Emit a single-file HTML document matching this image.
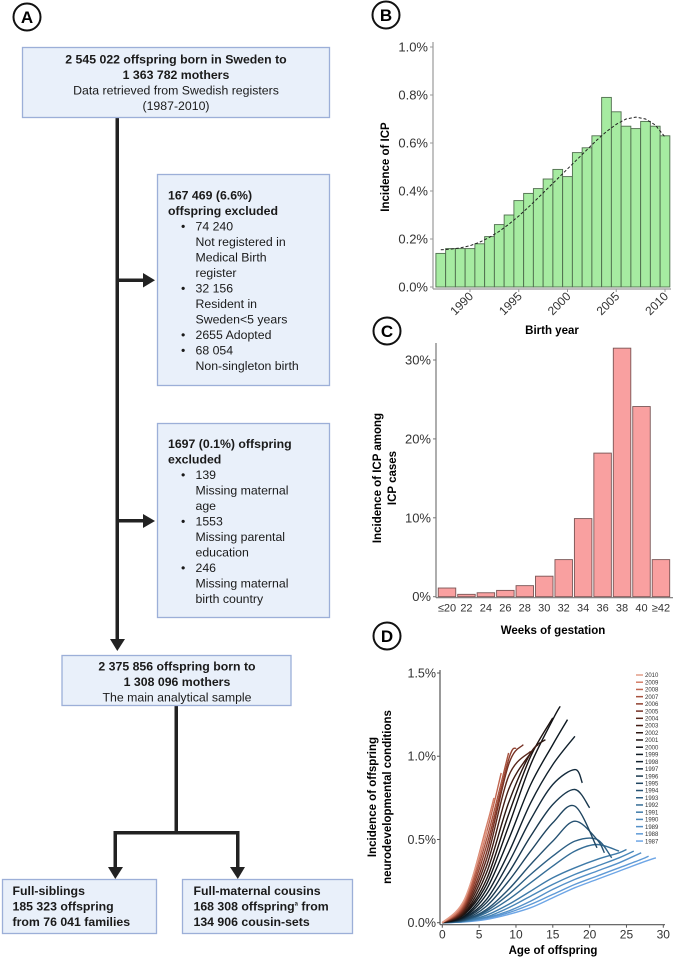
<!DOCTYPE html>
<html><head><meta charset="utf-8"><style>
html,body{margin:0;padding:0;background:#fff}
svg{display:block;font-family:"Liberation Sans",sans-serif}
</style></head><body>
<svg id="fig" width="678" height="959" viewBox="0 0 678 959" xmlns="http://www.w3.org/2000/svg">
<g id="flow">
 <circle cx="27" cy="17" r="13.5" fill="none" stroke="#111" stroke-width="2"/>
 <text x="27" y="23" text-anchor="middle" font-size="17" font-weight="bold">A</text>
 <g fill="#222" stroke="#222">
  <rect x="115.5" y="118" width="3.5" height="522" stroke="none"/>
  <polygon points="110,639 125,639 117.3,651" stroke="none"/>
  <rect x="117" y="278.5" width="28" height="3.5" stroke="none"/>
  <polygon points="143,273 155,280.3 143,287.5" stroke="none"/>
  <rect x="117" y="519" width="28" height="3.5" stroke="none"/>
  <polygon points="143,514 155,521 143,528" stroke="none"/>
  <rect x="174.5" y="706" width="3.5" height="128" stroke="none"/>
  <rect x="113.5" y="831" width="126" height="3.5" stroke="none"/>
  <rect x="113.5" y="831" width="3.5" height="38" stroke="none"/>
  <rect x="236" y="831" width="3.5" height="38" stroke="none"/>
  <polygon points="108,867 123,867 115.3,879" stroke="none"/>
  <polygon points="230,867 245,867 237.8,879" stroke="none"/>
 </g>
 <g font-size="12.3" fill="#1a1a1a">
  <g>
   <rect x="22.5" y="47.5" width="307" height="70" fill="#e9f0fa" stroke="#9cafd8" stroke-width="1.3"/>
   <text x="176" y="63.5" text-anchor="middle" font-weight="bold">2 545 022 offspring born in Sweden to</text>
   <text x="176" y="79" text-anchor="middle" font-weight="bold">1 363 782 mothers</text>
   <text x="176" y="94.5" text-anchor="middle">Data retrieved from Swedish registers</text>
   <text x="176" y="110" text-anchor="middle">(1987-2010)</text>
  </g>
  <g>
   <rect x="157.5" y="174.5" width="172" height="211" fill="#e9f0fa" stroke="#9cafd8" stroke-width="1.3"/>
   <text x="168" y="199.5" font-weight="bold">167 469 (6.6%)</text>
   <text x="168" y="215" font-weight="bold">offspring excluded</text>
   <text x="181" y="230.5">•</text><text x="195.5" y="230.5">74 240</text>
   <text x="195.5" y="246">Not registered in</text>
   <text x="195.5" y="261.5">Medical Birth</text>
   <text x="195.5" y="277">register</text>
   <text x="181" y="292.5">•</text><text x="195.5" y="292.5">32 156</text>
   <text x="195.5" y="308">Resident in</text>
   <text x="195.5" y="323.5">Sweden&lt;5 years</text>
   <text x="181" y="339">•</text><text x="195.5" y="339">2655 Adopted</text>
   <text x="181" y="354.5">•</text><text x="195.5" y="354.5">68 054</text>
   <text x="195.5" y="370">Non-singleton birth</text>
  </g>
  <g>
   <rect x="157.5" y="423.5" width="172" height="194" fill="#e9f0fa" stroke="#9cafd8" stroke-width="1.3"/>
   <text x="168" y="448" font-weight="bold">1697 (0.1%) offspring</text>
   <text x="168" y="463.5" font-weight="bold">excluded</text>
   <text x="181" y="479">•</text><text x="195.5" y="479">139</text>
   <text x="195.5" y="494.5">Missing maternal</text>
   <text x="195.5" y="510">age</text>
   <text x="181" y="525.5">•</text><text x="195.5" y="525.5">1553</text>
   <text x="195.5" y="541">Missing parental</text>
   <text x="195.5" y="556.5">education</text>
   <text x="181" y="572">•</text><text x="195.5" y="572">246</text>
   <text x="195.5" y="587.5">Missing maternal</text>
   <text x="195.5" y="603">birth country</text>
  </g>
  <g>
   <rect x="62" y="655.5" width="229" height="50" fill="#e9f0fa" stroke="#9cafd8" stroke-width="1.3"/>
   <text x="177" y="670.5" text-anchor="middle" font-weight="bold">2 375 856 offspring born to</text>
   <text x="177" y="686" text-anchor="middle" font-weight="bold">1 308 096 mothers</text>
   <text x="177" y="701.5" text-anchor="middle">The main analytical sample</text>
  </g>
  <g>
   <rect x="2.5" y="879.5" width="154" height="54" fill="#e9f0fa" stroke="#9cafd8" stroke-width="1.3"/>
   <text x="12.5" y="895" font-weight="bold">Full-siblings</text>
   <text x="12.5" y="910.5" font-weight="bold">185 323 offspring</text>
   <text x="12.5" y="926" font-weight="bold">from 76 041 families</text>
  </g>
  <g>
   <rect x="182.5" y="879.5" width="170" height="54" fill="#e9f0fa" stroke="#9cafd8" stroke-width="1.3"/>
   <text x="193.5" y="895" font-weight="bold">Full-maternal cousins</text>
   <text x="193.5" y="910.5" font-weight="bold">168 308 offspring<tspan font-size="6" dy="-5">a</tspan><tspan dy="5"> from</tspan></text>
   <text x="193.5" y="926" font-weight="bold">134 906 cousin-sets</text>
  </g>
 </g>
</g>
<g id="pb"></g>
<g id="pc"></g>
<g id="pd"></g>
</svg>
<script>
const NS="http://www.w3.org/2000/svg";
// ---- Panel B data ----
const bYears=[1987,1988,1989,1990,1991,1992,1993,1994,1995,1996,1997,1998,1999,2000,2001,2002,2003,2004,2005,2006,2007,2008,2009,2010];
const bValues=[0.14,0.16,0.16,0.16,0.18,0.21,0.26,0.30,0.36,0.39,0.41,0.45,0.49,0.46,0.56,0.58,0.63,0.79,0.73,0.67,0.66,0.69,0.67,0.63];
const bTrend=[0.155,0.158,0.163,0.172,0.187,0.207,0.232,0.262,0.296,0.333,0.372,0.412,0.452,0.492,0.532,0.572,0.612,0.648,0.678,0.700,0.708,0.700,0.675,0.625];
const bYTicks=[0,0.2,0.4,0.6,0.8,1.0];
const bYLabels=["0.0%","0.2%","0.4%","0.6%","0.8%","1.0%"];
const bXTicks=[1990,1995,2000,2005,2010];
// ---- Panel C data ----
const cCats=["≤20","22","24","26","28","30","32","34","36","38","40","≥42"];
const cValues=[1.1,0.3,0.5,0.8,1.4,2.6,4.7,9.9,18.2,31.5,24.1,4.7];
const cYTicks=[0,10,20,30];
const cYLabels=["0%","10%","20%","30%"];
// ---- Panel D data ----
const dCohorts=[1987,1988,1989,1990,1991,1992,1993,1994,1995,1996,1997,1998,1999,2000,2001,2002,2003,2004,2005,2006,2007,2008,2009,2010];
const dKnotAges=[0,3,6,9,12,15,18,21,24,27];
const dEndAge=[29,28,27,26,25,24,23,22,21,20,19,18,17,16,15,14,13,12,11,10,9,8,7,6];
const dSeries=[
 [0,0.005,0.02,0.05,0.09,0.15,0.21,0.26,0.31,0.36,0.39],
 [0,0.006,0.025,0.06,0.11,0.17,0.23,0.28,0.33,0.38,0.40],
 [0,0.007,0.03,0.07,0.13,0.20,0.26,0.31,0.36,0.42],
 [0,0.008,0.035,0.09,0.16,0.23,0.29,0.34,0.39,0.43],
 [0,0.01,0.045,0.11,0.19,0.27,0.33,0.38,0.42,0.44],
 [0,0.012,0.06,0.14,0.24,0.34,0.43,0.47,0.43],
 [0,0.014,0.07,0.17,0.29,0.40,0.49,0.50,0.39],
 [0,0.017,0.08,0.20,0.35,0.49,0.61,0.50,0.42],
 [0,0.02,0.10,0.25,0.43,0.60,0.70,0.45],
 [0,0.025,0.12,0.30,0.52,0.71,0.80,0.69],
 [0,0.03,0.14,0.36,0.62,0.83,0.92,0.84],
 [0,0.035,0.17,0.42,0.72,0.95,1.12],
 [0,0.04,0.20,0.50,0.83,1.07,1.22],
 [0,0.05,0.23,0.58,0.95,1.22,1.30],
 [0,0.055,0.26,0.65,1.00,1.23],
 [0,0.06,0.30,0.72,1.02,1.10],
 [0,0.07,0.34,0.80,1.02,1.07],
 [0,0.08,0.38,0.88,1.03],
 [0,0.09,0.42,0.95,1.07],
 [0,0.10,0.46,0.98,1.05],
 [0,0.11,0.50,1.02],
 [0,0.12,0.54,0.90],
 [0,0.13,0.58,0.75],
 [0,0.14,0.55]
];
const dColors=["#6ea6e6","#5f9ad6","#5490c8","#4886b8","#3e7aa8","#356d96","#2d5f84","#265272","#1f4560","#19384e","#142b3c","#10202c","#0c1820","#101216","#1c1210","#2c1610","#401c14","#58261a","#742f22","#90402e","#a8523e","#c0654f","#d47e68","#e39d89"];
const dYTicks=[0,0.5,1.0,1.5];
const dYLabels=["0.0%","0.5%","1.0%","1.5%"];
const dXTicks=[0,5,10,15,20,25,30];

function el(tag,attrs,parent,txt){const e=document.createElementNS(NS,tag);for(const k in attrs)e.setAttribute(k,attrs[k]);if(txt!==undefined)e.textContent=txt;parent.appendChild(e);return e;}
function badge(g,cx,cy,letter){
 const c=el("circle",{cx:cx,cy:cy,r:13.5,fill:"none",stroke:"#111","stroke-width":2},g);
 
 
 const t=el("text",{x:cx,y:cy+6,"text-anchor":"middle","font-size":17,"font-weight":"bold"},g,letter);
 
 
}
// Panel B
(function(){
 const g=document.getElementById("pb");badge(g,386,15,"B");
 const x0=433,x1=671,yb=287,yt=47;
 const ys=v=>yb-(v-0)/(1.0)*(yb-yt);
 const xs=yr=>470+(yr-1990)*9.75;
 const bw=9.7;
 el("line",{x1:x0,y1:yt-5,x2:x0,y2:yb+2,stroke:"#999","stroke-width":1.2},g);
 el("line",{x1:x0,y1:yb+2,x2:x1,y2:yb+2,stroke:"#999","stroke-width":1.2},g);
 bYTicks.forEach((v,i)=>{const y=ys(v);
  el("line",{x1:x0-3,y1:y,x2:x0,y2:y,stroke:"#999"},g);
  const t=el("text",{x:x0-5,y:y+4.5,"text-anchor":"end","font-size":13,fill:"#333"},g,bYLabels[i]);
  
  });
 bYears.forEach((yr,i)=>{const r=el("rect",{x:xs(yr)-bw/2,y:ys(bValues[i]),width:bw,height:yb-ys(bValues[i]),fill:"#a6eba1",stroke:"#4f6e4d","stroke-width":0.9},g);
  
  });
 let d="";bYears.forEach((yr,i)=>{d+=(i?"L":"M")+xs(yr).toFixed(1)+","+ys(bTrend[i]).toFixed(1);});
 const p=el("path",{d:d,fill:"none",stroke:"#222","stroke-width":1,"stroke-dasharray":"3,2"},g);
 
 
 bXTicks.forEach(yr=>{const x=xs(yr);el("line",{x1:x,y1:yb+2,x2:x,y2:yb+5,stroke:"#999"},g);
  const t=el("text",{x:x+4,y:yb+10,"text-anchor":"end","font-size":12,fill:"#333",transform:`rotate(-45 ${x+4} ${yb+10})`},g,String(yr));
  
  });
 const yt2=el("text",{x:0,y:0,"text-anchor":"middle","font-size":11.5,"font-weight":"bold",transform:"translate(389,167) rotate(-90)"},g,"Incidence of ICP");
 
 
 const xt=el("text",{x:552,y:334,"text-anchor":"middle","font-size":11.5,"font-weight":"bold"},g,"Birth year");
 
 
})();
// Panel C
(function(){
 const g=document.getElementById("pc");badge(g,387,331,"C");
 const x0=436,x1=673,yb=596.7,yt=360;
 const ys=v=>yb-v/30*(yb-yt);
 const xs=i=>447+i*19.45;const bw=17.5;
 el("line",{x1:x0,y1:343,x2:x0,y2:yb+1,stroke:"#777","stroke-width":1.2},g);
 el("line",{x1:x0,y1:yb+1,x2:x1,y2:yb+1,stroke:"#777","stroke-width":1.2},g);
 cYTicks.forEach((v,i)=>{const y=ys(v);el("line",{x1:x0-3,y1:y,x2:x0,y2:y,stroke:"#777"},g);
  const t=el("text",{x:x0-5,y:y+4.5,"text-anchor":"end","font-size":13,fill:"#333"},g,cYLabels[i]);
  
  });
 cCats.forEach((c,i)=>{const r=el("rect",{x:xs(i)-bw/2,y:ys(cValues[i]),width:bw,height:yb-ys(cValues[i]),fill:"#f9a0a0",stroke:"#7a5555","stroke-width":0.9},g);
  
  
  const t=el("text",{x:xs(i),y:yb+15,"text-anchor":"middle","font-size":11,fill:"#333"},g,c);
  
  });
 const a=el("text",{x:0,y:0,"text-anchor":"middle","font-size":11.5,"font-weight":"bold",transform:"translate(381,478) rotate(-90)"},g,"Incidence of ICP among");
 
 
 const b=el("text",{x:0,y:0,"text-anchor":"middle","font-size":11.5,"font-weight":"bold",transform:"translate(396,478) rotate(-90)"},g,"ICP cases");
 
 
 const xt=el("text",{x:553,y:634,"text-anchor":"middle","font-size":11.5,"font-weight":"bold"},g,"Weeks of gestation");
 
 
})();
// Panel D
(function(){
 const g=document.getElementById("pd");badge(g,387,636,"D");
 const x0=440,yb=922.7,yt=673;
 const ys=v=>yb-v/1.5*(yb-yt);
 const xs=a=>442.3+a*(221/30);
 el("line",{x1:x0,y1:670,x2:x0,y2:yb+2,stroke:"#555","stroke-width":1.2},g);
 el("line",{x1:x0,y1:yb+2,x2:665,y2:yb+2,stroke:"#555","stroke-width":1.2},g);
 dYTicks.forEach((v,i)=>{const y=ys(v);el("line",{x1:x0-3,y1:y,x2:x0,y2:y,stroke:"#555"},g);
  const t=el("text",{x:x0-4,y:y+4.5,"text-anchor":"end","font-size":12.5,fill:"#333"},g,dYLabels[i]);
  
  });
 dXTicks.forEach(a=>{const x=xs(a);el("line",{x1:x,y1:yb+2,x2:x,y2:yb+5,stroke:"#555"},g);
  const t=el("text",{x:x,y:yb+16,"text-anchor":"middle","font-size":12,fill:"#333"},g,String(a));
  
  });
 function smooth(pts){let d="M"+pts[0][0].toFixed(1)+","+pts[0][1].toFixed(1);
  for(let i=0;i<pts.length-1;i++){const p0=pts[Math.max(0,i-1)],p1=pts[i],p2=pts[i+1],p3=pts[Math.min(pts.length-1,i+2)];
   const c1=[p1[0]+(p2[0]-p0[0])/6,p1[1]+(p2[1]-p0[1])/6],c2=[p2[0]-(p3[0]-p1[0])/6,p2[1]-(p3[1]-p1[1])/6];
   d+="C"+c1[0].toFixed(1)+","+c1[1].toFixed(1)+" "+c2[0].toFixed(1)+","+c2[1].toFixed(1)+" "+p2[0].toFixed(1)+","+p2[1].toFixed(1);}
  return d;}
 dCohorts.forEach((yr,i)=>{const vals=dSeries[i];const pts=[];
  for(let k=0;k<vals.length-1;k++){if(dKnotAges[k]<dEndAge[i])pts.push([xs(dKnotAges[k]),ys(vals[k])]);}
  pts.push([xs(dEndAge[i]),ys(vals[vals.length-1])]);
  const p=el("path",{d:smooth(pts),fill:"none",stroke:dColors[i],"stroke-width":1.4},g);
  
  
  const ly=675+(2010-yr)*7.22;
  const ll=el("line",{x1:636,y1:ly,x2:643,y2:ly,stroke:dColors[i],"stroke-width":1.5},g);
  
  
  const lt=el("text",{x:645,y:ly+2.2,"font-size":6,fill:"#333"},g,String(yr));
  
  });
 const a=el("text",{x:0,y:0,"text-anchor":"middle","font-size":11.5,"font-weight":"bold",transform:"translate(376,797) rotate(-90)"},g,"Incidence of offspring");
 
 
 const b=el("text",{x:0,y:0,"text-anchor":"middle","font-size":11.5,"font-weight":"bold",transform:"translate(391,797) rotate(-90)"},g,"neurodevelopmental conditions");
 
 
 const xt=el("text",{x:553,y:954,"text-anchor":"middle","font-size":11.5,"font-weight":"bold"},g,"Age of offspring");
 
 
})();
</script>
</body></html>
